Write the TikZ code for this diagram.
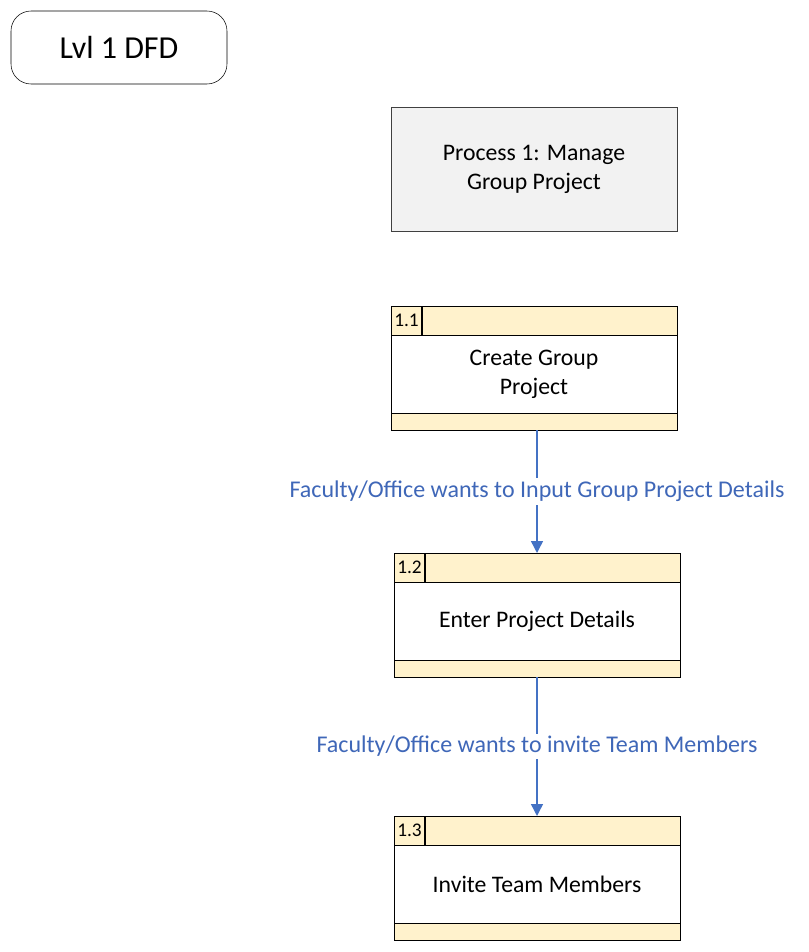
\documentclass[tikz,border=0pt]{standalone}
\usepackage{fontspec}
\setmainfont{Carlito}
\usetikzlibrary{positioning,arrows.meta}

\definecolor{procyellow}{HTML}{FFF2CC}
\definecolor{procgray}{HTML}{F2F2F2}
\definecolor{flowblue}{HTML}{4472C4}
\definecolor{labelblue}{HTML}{3F67B8}

\tikzset{
    title/.style={draw, rounded corners=15pt, minimum width=162pt, minimum height=54.75pt, font=\fontsize{24}{28}\selectfont},
    process/.style={draw=black!75, fill=procgray, minimum width=214.5pt, minimum height=93pt, align=center, font=\fontsize{17.8}{21.75}\selectfont},
    prochead/.style={draw, fill=procyellow, minimum width=214.5pt, minimum height=21.75pt, outer sep=0pt},
    procid/.style={minimum width=23.25pt, minimum height=21.75pt, inner sep=2pt, outer sep=0pt, align=left, font=\fontsize{14.5}{16}\selectfont},
    procbody/.style={draw, fill=white, minimum width=214.5pt, minimum height=58.5pt, outer sep=0pt, align=center, font=\fontsize{17.8}{21.75}\selectfont},
    procfoot/.style={draw, fill=procyellow, minimum width=214.5pt, minimum height=12.75pt, outer sep=0pt},
    flow/.style={draw=flowblue, line width=1.1pt, -{Triangle[length=9pt, width=9pt]}},
    flowlabel/.style={fill=white, text=labelblue, inner sep=2pt, font=\fontsize{18}{21}\selectfont}
}

\begin{document}
\begin{tikzpicture}[x=0.75pt, y=-0.75pt]
    % page frame
    \useasboundingbox (0,0) rectangle (808,952);

    \node[title] (lvl) at (119,47.5) {Lvl 1 DFD};
    \node[process] (p1) at (534,169) {Process 1: Manage\\Group Project};

    % 1.1
    \node[prochead, anchor=north] (h11) at (534,306) {};
    \node[procid, anchor=west] (id11) at (h11.west) {1.1\hfill};
    \draw[line width=1.2pt] (id11.north east) -- (id11.south east);
    \node[procbody, below=0pt of h11] (b11) {Create Group\\Project};
    \node[procfoot, below=0pt of b11] (f11) {};

    % 1.2
    \node[prochead, anchor=north] (h12) at (537,553) {};
    \node[procid, anchor=west] (id12) at (h12.west) {1.2\hfill};
    \draw[line width=1.2pt] (id12.north east) -- (id12.south east);
    \node[procbody, below=0pt of h12] (b12) {Enter Project Details};
    \node[procfoot, below=0pt of b12] (f12) {};

    % 1.3
    \node[prochead, anchor=north] (h13) at (537,816) {};
    \node[procid, anchor=west] (id13) at (h13.west) {1.3\hfill};
    \draw[line width=1.2pt] (id13.north east) -- (id13.south east);
    \node[procbody, below=0pt of h13] (b13) {Invite Team Members};
    \node[procfoot, below=0pt of b13] (f13) {};

    % data flows
    \draw[flow] (f11.south -| h12.north) -- node[flowlabel] (l1) {Faculty/Office wants to Input Group Project Details} (h12.north);
    \draw[flow] (f12.south) -- node[flowlabel] (l2) {Faculty/Office wants to invite Team Members} (h13.north);
\end{tikzpicture}
\end{document}
